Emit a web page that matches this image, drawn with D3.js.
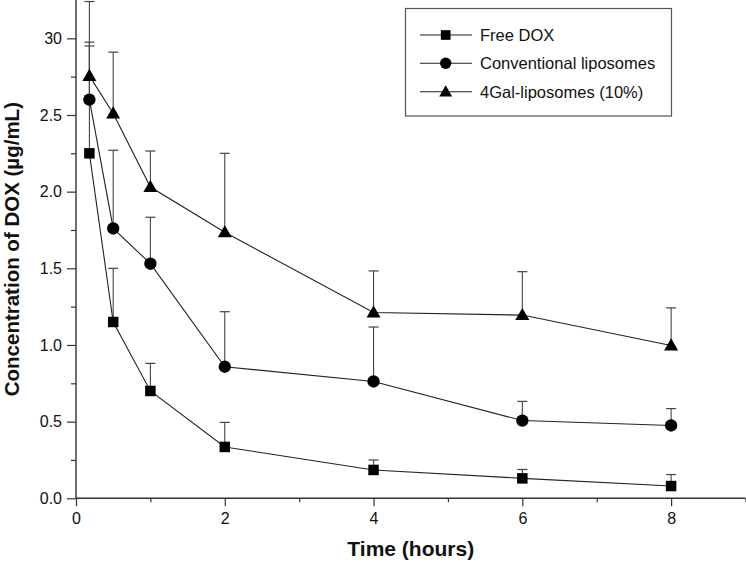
<!DOCTYPE html>
<html>
<head>
<meta charset="utf-8">
<script src="https://cdn.jsdelivr.net/npm/d3@7"></script>
<style>
  html, body { margin: 0; padding: 0; background: #fff; }
  svg { display: block; }
  text { font-family: Arial, "Liberation Sans", sans-serif; }
</style>
</head>
<body>
<svg id="chart" width="746" height="566"></svg>
<script>
// ---- data ----
const times = [0.18, 0.5, 1, 2, 4, 6, 8];
const seriesNames = ["Free DOX", "Conventional liposomes", "4Gal-liposomes (10%)"];
const freeDOX = [2.25, 1.15, 0.70, 0.335, 0.185, 0.13, 0.08];
const freeDOXUpper = [2.95, 1.50, 0.88, 0.495, 0.25, 0.188, 0.155];
const conventional = [2.60, 1.76, 1.53, 0.858, 0.762, 0.507, 0.475];
const conventionalUpper = [2.975, 2.27, 1.833, 1.217, 1.117, 0.632, 0.585];
const gal4 = [2.755, 2.51, 2.03, 1.735, 1.212, 1.195, 0.997];
const gal4Upper = [3.24, 2.91, 2.265, 2.25, 1.483, 1.478, 1.242];
const yTickValues = [0, 0.5, 1.0, 1.5, 2.0, 2.5, 3.0];
const yTickLabels = ["0.0", "0.5", "1.0", "1.5", "2.0", "2.5", "30"];
const yMinorTicks = [0.25, 0.75, 1.25, 1.75, 2.25, 2.75];
const xTickValues = [0, 2, 4, 6, 8];
const xTickLabels = ["0", "2", "4", "6", "8"];
const xMinorTicks = [1, 3, 5, 7, 9];
const xTitle = "Time (hours)";
const yTitle = "Concentration of DOX (µg/mL)";

// ---- setup ----
const svg = d3.select("#chart");
const x = d3.scaleLinear().domain([0, 9]).range([76, 745.5]);
const y = d3.scaleLinear().domain([0, 3.25]).range([498.3, 0]);

const series = [
  { name: seriesNames[0], vals: freeDOX, up: freeDOXUpper, sym: d3.symbolSquare, size: 110 },
  { name: seriesNames[1], vals: conventional, up: conventionalUpper, sym: d3.symbolCircle, size: 120 },
  { name: seriesNames[2], vals: gal4, up: gal4Upper, sym: d3.symbolTriangle, size: 85 }
];

const axisColor = "#333";

// ---- axes ----
svg.append("g").attr("transform", `translate(0,${y(0)})`)
  .call(d3.axisBottom(x).tickValues(xTickValues).tickFormat((d, i) => xTickLabels[i]).tickSize(8).tickPadding(6));
svg.append("g").attr("transform", `translate(0,${y(0)})`)
  .call(d3.axisBottom(x).tickValues(xMinorTicks).tickFormat("").tickSize(4));

svg.append("g").attr("transform", `translate(${x(0)},0)`)
  .call(d3.axisLeft(y).tickValues(yTickValues).tickFormat((d, i) => yTickLabels[i]).tickSize(9).tickPadding(5));
svg.append("g").attr("transform", `translate(${x(0)},0)`)
  .call(d3.axisLeft(y).tickValues(yMinorTicks).tickFormat("").tickSize(5));

svg.selectAll(".domain").remove();
// domain lines drawn explicitly
svg.append("line").attr("x1", x(0)).attr("x2", x(9)).attr("y1", y(0)).attr("y2", y(0))
  .attr("stroke", axisColor).attr("stroke-width", 1.4);
svg.append("line").attr("x1", x(0)).attr("x2", x(0)).attr("y1", y(0)).attr("y2", y(3.25))
  .attr("stroke", axisColor).attr("stroke-width", 1.4);

svg.selectAll(".tick line").attr("stroke", axisColor).attr("stroke-width", 1.2);
svg.selectAll(".tick text").attr("font-size", 16).attr("fill", "#111")
  .attr("font-family", "Arial, 'Liberation Sans', sans-serif");

// titles
svg.append("text").attr("x", (x(0) + x(9)) / 2).attr("y", 556)
  .attr("text-anchor", "middle").attr("font-size", 21).attr("font-weight", "bold").attr("fill", "#111")
  .text(xTitle);
svg.append("text").attr("transform", `translate(19,${y(1.625)}) rotate(-90)`)
  .attr("text-anchor", "middle").attr("font-size", 20.5).attr("font-weight", "bold").attr("fill", "#111")
  .text(yTitle);

// ---- error bars ----
const capHalf = 5;
series.forEach(s => {
  const g = svg.append("g");
  times.forEach((t, i) => {
    g.append("line").attr("x1", x(t)).attr("x2", x(t)).attr("y1", y(s.vals[i])).attr("y2", y(s.up[i]))
      .attr("stroke", "#444").attr("stroke-width", 1.1);
    g.append("line").attr("x1", x(t) - capHalf).attr("x2", x(t) + capHalf).attr("y1", y(s.up[i])).attr("y2", y(s.up[i]))
      .attr("stroke", "#444").attr("stroke-width", 1.2);
  });
});

// ---- lines ----
const line = d3.line().x(d => x(d[0])).y(d => y(d[1]));
series.forEach(s => {
  svg.append("path").datum(times.map((t, i) => [t, s.vals[i]]))
    .attr("d", line).attr("fill", "none").attr("stroke", "#222").attr("stroke-width", 1.1);
});

// ---- markers ----
series.forEach(s => {
  svg.append("g").selectAll("path").data(times.map((t, i) => [t, s.vals[i]])).join("path")
    .attr("transform", d => `translate(${x(d[0])},${y(d[1]) + (s.sym === d3.symbolTriangle ? 1 : 0)})`)
    .attr("d", d3.symbol().type(s.sym).size(s.size))
    .attr("fill", "#000");
});

// ---- legend ----
const lg = svg.append("g");
lg.append("rect").attr("x", 405.5).attr("y", 8.5).attr("width", 266).attr("height", 107.5)
  .attr("fill", "#fff").attr("stroke", "#555").attr("stroke-width", 1.2);
const rowsY = [35, 63.3, 91.7];
series.forEach((s, i) => {
  const yy = rowsY[i];
  lg.append("line").attr("x1", 420).attr("x2", 472).attr("y1", yy).attr("y2", yy)
    .attr("stroke", "#222").attr("stroke-width", 1.1);
  lg.append("path").attr("transform", `translate(445.7,${yy + (s.sym === d3.symbolTriangle ? 1 : 0)})`)
    .attr("d", d3.symbol().type(s.sym).size(s.size * 0.85)).attr("fill", "#000");
  lg.append("text").attr("x", 480).attr("y", yy + 6).attr("font-size", 16.5).attr("fill", "#111")
    .text(s.name);
});
</script>
</body>
</html>
